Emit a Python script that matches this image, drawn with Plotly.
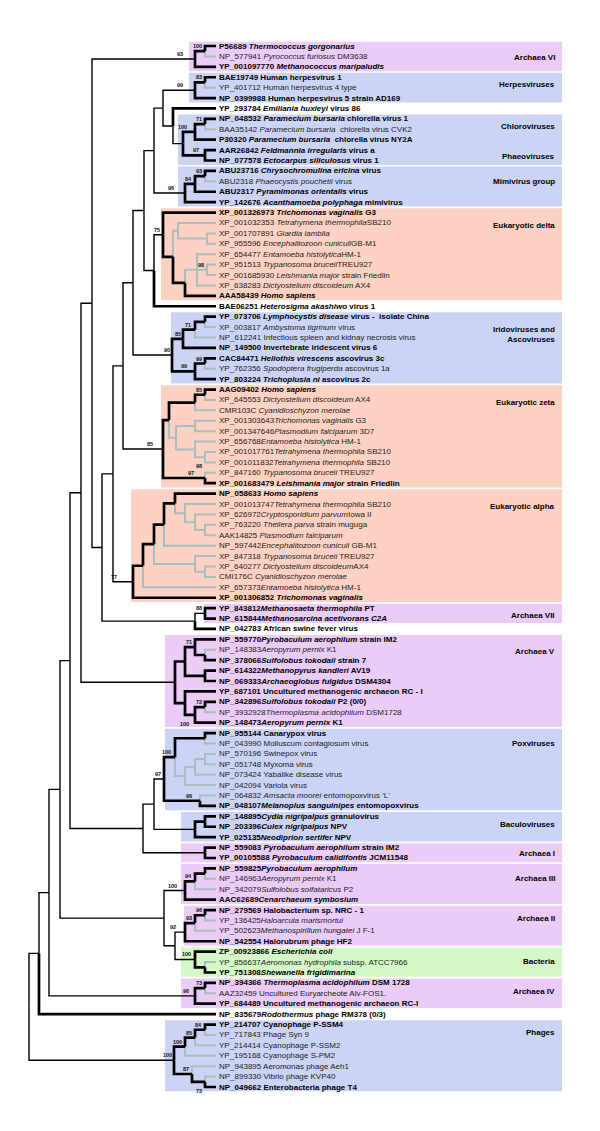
import plotly.graph_objects as go

# ---------------- data ----------------
LEAF_LABELS = [
    "P56689 <i>Thermococcus gorgonarius</i>",
    "NP_577941 <i>Pyrococcus furiosus</i> DM3638",
    "YP_001097770 <i>Methanococcus maripaludis</i>",
    "BAE19749 Human herpesvirus 1",
    "YP_401712 Human herpesvirus 4 type",
    "NP_0399988 Human herpesvirus 5 strain AD169",
    "YP_293784 <i>Emiliania huxleyi</i> virus 86",
    "NP_048532 <i>Paramecium bursaria</i> chlorella virus 1",
    "BAA35142 <i>Paramecium bursaria</i>  chlorella virus CVK2",
    "P30320 <i>Paramecium bursaria</i>  chlorella virus NY2A",
    "AAR26842 <i>Feldmannia irregularis</i> virus a",
    "NP_077578 <i>Ectocarpus siliculosus</i> virus 1",
    "ABU23716 <i>Chrysochromulina ericina</i> virus",
    "ABU2318 <i>Phaeocystis pouchetii</i> virus",
    "ABU2317 <i>Pyramimonas orientalis</i> virus",
    "YP_142676 <i>Acanthamoeba polyphaga</i> mimivirus",
    "XP_001326973 <i>Trichomonas vaginalis</i> G3",
    "XP_001032353 <i>Tetrahymena thermophila</i>SB210",
    "XP_001707891 <i>Giardia lamblia</i>",
    "XP_955596 <i>Encephalitozoon cuniculi</i>GB-M1",
    "XP_654477 <i>Entamoeba histolytica</i>HM-1",
    "XP_951513 <i>Trypanosoma bruceii</i>TREU927",
    "XP_001685930 <i>Leishmania major</i> strain Friedlin",
    "XP_638283 <i>Dictyostelium discoideum</i> AX4",
    "AAA58439 <i>Homo sapiens</i>",
    "BAE06251 <i>Heterosigma akashiwo</i> virus 1",
    "YP_073706 <i>Lymphocystis disease</i> virus -  isolate China",
    "XP_003817 <i>Ambystoma tigrinum</i> virus",
    "NP_612241 Infectious spleen and kidnay necrosis virus",
    "NP_149500 Invertebrate iridescent virus 6",
    "CAC84471 <i>Heliothis virescens</i> ascovirus 3c",
    "YP_762356 <i>Spodoptera frugiperda</i> ascovirus 1a",
    "YP_803224 <i>Trichoplusia ni</i> ascovirus 2c",
    "AAG09402 <i>Homo sapiens</i>",
    "XP_645553 <i>Dictyostelium discoideum</i> AX4",
    "CMR103C <i>Cyanidioschyzon merolae</i>",
    "XP_001303643<i>Trichomonas vaginalis</i> G3",
    "XP_001347646<i>Plasmodium falciparum</i> 3D7",
    "XP_656768<i>Entamoeba histolytica</i> HM-1",
    "XP_001017761<i>Tetrahymena thermophila</i> SB210",
    "XP_001011832<i>Tetrahymena thermophila</i> SB210",
    "XP_847160 <i>Trypanosoma bruceii</i> TREU927",
    "XP_001683479 <i>Leishmania major</i> strain Friedlin",
    "NP_058633 <i>Homo sapiens</i>",
    "XP_001013747<i>Tetrahymena thermophila</i> SB210",
    "XP_626972<i>Cryptosporidium parvum</i>Iowa II",
    "XP_763220 <i>Theilera parva</i> strain muguga",
    "AAK14825 <i>Plasmodium falciparum</i>",
    "NP_597442<i>Encephalitozoon cuniculi</i> GB-M1",
    "XP_847318 <i>Trypanosoma bruceii</i> TREU927",
    "XP_640277 <i>Dictyostelium discoideum</i>AX4",
    "CMI176C <i>Cyanidioschyzon merolae</i>",
    "XP_657373<i>Entamoeba histolytica</i> HM-1",
    "XP_001306852 <i>Trichomonas vaginalis</i>",
    "YP_843812<i>Methanosaeta thermophila</i> PT",
    "NP_615844<i>Methanosarcina acetivorans C2A</i>",
    "NP_042783 African swine fever virus",
    "NP_559770<i>Pyrobaculum aerophilum</i> strain IM2",
    "NP_148383<i>Aeropyrum pernix</i> K1",
    "NP_378066<i>Sulfolobus tokodaii</i> strain 7",
    "NP_614322<i>Methanopyrus kandleri</i> AV19",
    "NP_069333<i>Archaeoglobus fulgidus</i> DSM4304",
    "YP_687101 Uncultured methanogenic archaeon RC - I",
    "NP_342896<i>Sulfolobus tokodaii</i> P2 (0/0)",
    "NP_3932928<i>Thermoplasma acidophilum</i> DSM1728",
    "NP_148473<i>Aeropyrum pernix</i> K1",
    "NP_955144 Canarypox virus",
    "NP_043990 Molluscum contagiosum virus",
    "NP_570196 Swinepox virus",
    "NP_051748 Myxoma virus",
    "NP_073424 Yabalike disease virus",
    "NP_042094 Variola virus",
    "NP_064832 <i>Amsacta moorei</i> entomopoxvirus 'L'",
    "NP_048107<i>Melanoplus sanguinipes</i> entomopoxvirus",
    "NP_148895<i>Cydia nigripalpus</i> granulovirus",
    "NP_203396<i>Culex nigripalpus</i> NPV",
    "YP_025135<i>Neodiprion sertifer</i> NPV",
    "NP_559083 <i>Pyrobaculum aerophilum</i> strain IM2",
    "YP_00105588 <i>Pyrobaculum calidifontis</i> JCM11548",
    "NP_559825<i>Pyrobaculum aerophilum</i>",
    "NP_146963<i>Aeropyrum pernix</i> K1",
    "NP_342079<i>Sulfolobus solfataricus</i> P2",
    "AAC62689<i>Cenarchaeum symbosium</i>",
    "NP_279569 Halobacterium sp. NRC - 1",
    "YP_136425<i>Haloarcula marismortui</i>",
    "YP_502623<i>Methanospirillum hungatei</i> J F-1",
    "NP_542554 Halorubrum phage HF2",
    "ZP_00923866 <i>Escherichia coli</i>",
    "YP_856637<i>Aeromonas hydrophila</i> subsp. ATCC7966",
    "YP_751308<i>Shewanella frigidimarina</i>",
    "NP_394366 <i>Thermoplasma acidophilum</i> DSM 1728",
    "AAZ32459 Uncultured Euryarcheote Alv-FOS1.",
    "YP_684489 Uncultured methanogenic archaeon RC-I",
    "NP_835679<i>Rodothermus</i> phage RM378 (0/3)",
    "YP_214707 Cyanophage P-SSM4",
    "YP_717843 Phage Syn 9",
    "YP_214414 Cyanophage P-SSM2",
    "YP_195168 Cyanophage S-PM2",
    "NP_943895 Aeromonas phage Aeh1",
    "NP_899330 Vibrio phage KVP40",
    "NP_049662 Enterobacteria phage T4",
]

LEAF_BOLD = [
    1, 0, 1, 1, 0, 1, 1, 1, 0, 1,
    1, 1, 1, 0, 1, 1, 1, 0, 0, 0,
    0, 0, 0, 0, 1, 1, 1, 0, 0, 1,
    1, 0, 1, 1, 0, 0, 0, 0, 0, 0,
    0, 0, 1, 1, 0, 0, 0, 0, 0, 0,
    0, 0, 0, 1, 1, 1, 1, 1, 0, 1,
    1, 1, 1, 1, 0, 1, 1, 0, 0, 0,
    0, 0, 0, 1, 1, 1, 1, 1, 1, 1,
    0, 0, 1, 1, 0, 0, 1, 1, 0, 1,
    1, 0, 1, 1, 1, 0, 0, 0, 0, 0,
    1,
]


# tree: node = (depth from root, bootstrap support, children); leaves = leaf numbers
def N(depth, support, *children):
    return {"depth": depth, "support": support, "children": list(children)}


TIP_DEPTH = 216

ARCH6 = N(195, ("93", 11), N(205, "100", 1, 2), 3)
HERP = N(195, ("99", 11), N(205, "83", 4, 5), 6)
CHLORO = N(195, ("100", 7), N(205, "71", 8, 9), 10)
PHAEO = N(205, ("97", 5), 11, 12)
MIMI = N(185, ("96", 10), N(195, "84", N(205, "93", 13, 14), 15), 16)
EDELTA = N(163, "75", 17,
           N(173, None,
             N(178, None, 18, N(207, None, 19, 20)),
             N(185, None, N(197, None, 21, N(207, "98", 22, 23), 24), 25)))
IRIDO = N(172, ("90", 1),
          N(183, ("85", 1), N(195, ("71", 3), N(205, None, 27, 28), 29), 30),
          N(195, ("99", 7), N(205, "99", 31, 32), 33))
EZETA = N(163, ("85", 9),
          N(169, None,
            N(195, None, N(205, "85", 34, 35), 36),
            N(176, None, N(195, None, 37, 38),
              N(195, None, 39, N(205, ("98", 2, "b"), 40, 41)))),
          N(205, ("97", 10), 42, 43))
EALPHA = N(133, ("77", 15),
           N(143, None,
             N(154, None,
               N(164, None,
                 N(175, None, 44, N(185, None, 45, N(195, None, 46, N(205, None, 47, 48)))),
                 49),
               N(195, None, 50, N(205, None, 51, 52))),
             53),
           54)
A7ASFV = N(195, None, N(205, "88", 55, 56), 57)
ARCH5 = N(175, None,
          N(185, None, N(195, "71", 58, N(205, None, 59, 60)), N(205, None, 61, 62)),
          N(185, None, 63, N(195, ("100", 5, "b"), N(205, "72", 64, 65), 66)))
POX = N(164, "97",
        N(175, ("100", 3), N(205, None, 67, 68),
          N(185, None, N(195, None, N(205, None, 69, 70), 71), 72)),
        N(200, ("96", 7), 73, 74))
BACULO = N(195, None, N(205, None, 75, 76), 77)
ARCH1 = N(205, None, 78, 79)
ARCH3 = N(185, ("100", 7), N(195, "94", N(205, None, 80, 81), 82), 83)
ARCH2 = N(185, ("92", 8), N(195, "93", N(205, "96", 84, 85), 86), 87)
BACT = N(195, ("100", 3), 88, N(205, None, 89, 90))
ARCH4 = N(195, ("96", 5), N(205, "73", 91, 92), 93)
PHAGES = N(174, ("100", 1),
           N(185, "100", N(195, "85", N(205, "84", 95, 96), 97), 98),
           N(192, "87", 99, N(205, ("73", 2, "b"), 100, 101)))

TREE = N(29, None,
         N(39, None,
           N(49, None,
             N(60, None,
               N(70, None,
                 N(81, None,
                   N(92, None,
                     ARCH6,
                     N(102, None,
                       N(113, None,
                         N(123, None,
                           N(133, None,
                             N(144, None,
                               N(154, None,
                                 N(163, None, HERP,
                                   N(173, None, 7, N(183, None, CHLORO, PHAEO))),
                                 MIMI),
                               N(154, None, EDELTA, 26)),
                             IRIDO),
                           EZETA),
                         EALPHA),
                       A7ASFV)),
                   ARCH5),
                 N(143, None, N(154, None, POX, BACULO), ARCH1)),
               N(164, None, ARCH3, N(175, None, ARCH2, BACT))),
             ARCH4),
           94),
         PHAGES)

# coloured clade boxes: first leaf, last leaf, kind
BOX_FIRST = [1, 4, 8, 13, 17, 27, 34, 44, 55, 58, 67, 75, 78, 80, 84, 88, 91, 95]
BOX_LAST = [3, 6, 12, 16, 25, 33, 43, 54, 56, 66, 74, 77, 79, 83, 87, 90, 93, 101]
BOX_KIND = ["arch", "virus", "virus", "virus", "euk", "virus", "euk", "euk", "arch",
            "arch", "virus", "virus", "arch", "arch", "arch", "bact", "arch", "virus"]

GROUP_NAMES = ["Archaea VI", "Herpesviruses", "Chloroviruses", "Phaeoviruses",
               "Mimivirus group", "Eukaryotic delta", "Iridoviruses and<br>Ascoviruses",
               "Eukaryotic zeta", "Eukaryotic alpha", "Archaea VII", "Archaea V",
               "Poxviruses", "Baculoviruses", "Archaea I", "Archaea III", "Archaea II",
               "Bacteria", "Archaea IV", "Phages"]

# ---------------- layout / style ----------------
BOX_LEFT = [189, 189, 178, 178, 161, 171, 161, 131, 204, 165, 165, 181, 181, 181, 184, 181, 181, 165]
BOX_RIGHT = 562
GROUP_LABEL_ROW = [2.06, 4.72, 8.78, 11.57, 14.06, 18.29, 28.76, 35.29, 45.28, 55.66,
                   59.12, 68.05, 75.83, 78.6, 81.0, 84.86, 88.99, 91.78, 95.81]
KIND_COLOR = {"arch": "#EACCF7", "virus": "#CCD4F6", "euk": "#FDD2C3", "bact": "#D4F8C6"}
GREY = "#A9BFBF"
FONT = "Liberation Sans, Arial, Helvetica, sans-serif"
W, H = 600, 1131
ROW0_PX, ROW_PX = 46.0, 10.41

leaf_box = {}
for bi, (a, b) in enumerate(zip(BOX_FIRST, BOX_LAST)):
    for l in range(a, b + 1):
        leaf_box[l] = bi


def place(node):
    if isinstance(node, int):
        return {"leaf": node, "x": TIP_DEPTH, "y": float(node), "leaves": [node], "kids": []}
    kids = [place(c) for c in node["children"]]
    y = (kids[0]["y"] + kids[-1]["y"]) / 2.0
    leaves = [l for k in kids for l in k["leaves"]]
    return {"x": node["depth"], "y": y, "kids": kids, "leaves": leaves,
            "support": node["support"]}


root = place(TREE)


def has_bold(n):
    return any(LEAF_BOLD[l - 1] for l in n["leaves"])


def in_group(n):
    bs = {leaf_box.get(l) for l in n["leaves"]}
    return len(bs) == 1 and None not in bs


seg = {"grey": ([], []), "thin": ([], []), "thick": ([], [])}
supports = []


def walk(n):
    if n.get("support"):
        supports.append((n, n["support"]))
    for k in n["kids"]:
        if not has_bold(k):
            st = "grey"
        elif "leaf" in k or in_group(n):
            st = "thick"
        else:
            st = "thin"
        xs, ys = seg[st]
        xs += [n["x"], n["x"], k["x"], None]
        ys += [n["y"], k["y"], k["y"], None]
        walk(k)


walk(root)

fig = go.Figure()
styles = {"grey": (GREY, 2.0), "thin": ("#000000", 1.4), "thick": ("#000000", 2.7)}
for name in ["grey", "thin", "thick"]:
    xs, ys = seg[name]
    col, wd = styles[name]
    fig.add_trace(go.Scatter(x=xs, y=ys, mode="lines", line=dict(color=col, width=wd),
                             hoverinfo="skip", showlegend=False))

shapes = []
for a, b, kind, left in zip(BOX_FIRST, BOX_LAST, BOX_KIND, BOX_LEFT):
    shapes.append(dict(type="rect", xref="x", yref="y", x0=left, x1=BOX_RIGHT,
                       y0=a - 0.42, y1=b + 0.42, fillcolor=KIND_COLOR[kind],
                       line=dict(width=0), layer="below"))

ann = []
for i, (lab, bold) in enumerate(zip(LEAF_LABELS, LEAF_BOLD), start=1):
    txt = "<b>%s</b>" % lab if bold else lab
    ann.append(dict(x=TIP_DEPTH + 1, y=i, xref="x", yref="y", text=txt, showarrow=False,
                    xanchor="left", yanchor="middle",
                    font=dict(family=FONT, size=8, color="#000000" if bold else "#222222")))

for n, s in supports:
    if isinstance(s, str):
        txt, gap, pos = s, 2, "a"
    else:
        txt = s[0]
        gap = s[1] if len(s) > 1 else 2
        pos = s[2] if len(s) > 2 else "a"
    dy = -0.48 if pos == "a" else 0.86
    ann.append(dict(x=n["x"] - gap, y=n["y"] + dy, xref="x", yref="y",
                    text="<b>%s</b>" % txt, showarrow=False, xanchor="right",
                    yanchor="middle", borderpad=0,
                    font=dict(family=FONT, size=5.5, color="#111111")))

for name, row in zip(GROUP_NAMES, GROUP_LABEL_ROW):
    ann.append(dict(x=557, y=row, xref="x", yref="y", text="<b>%s</b>" % name,
                    showarrow=False, xanchor="right", yanchor="middle", align="right",
                    font=dict(family=FONT, size=8, color="#000000")))

y_top = 1 - ROW0_PX / ROW_PX
y_bot = 1 + (H - ROW0_PX) / ROW_PX
fig.update_layout(
    width=W, height=H, margin=dict(l=0, r=0, t=0, b=0),
    paper_bgcolor="white", plot_bgcolor="white",
    xaxis=dict(range=[0, W], visible=False, fixedrange=True),
    yaxis=dict(range=[y_bot, y_top], visible=False, fixedrange=True),
    shapes=shapes, annotations=ann, showlegend=False,
)

fig.write_html("out.html", config={"displayModeBar": False},
               post_script="document.body.style.margin='0px';")
